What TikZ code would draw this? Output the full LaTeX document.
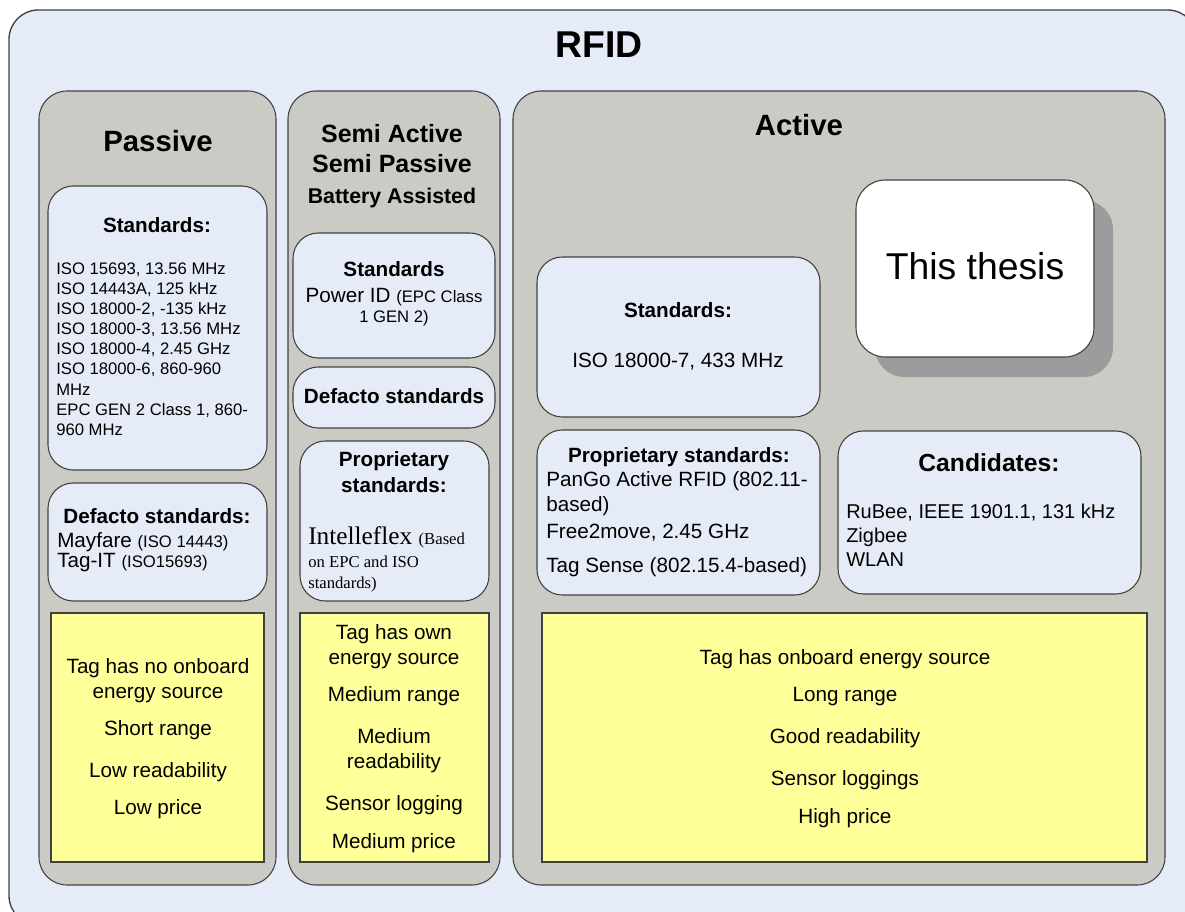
\documentclass[tikz,border=0pt]{standalone}
\usepackage{fontspec}
\setmainfont{Liberation Sans}
\newfontfamily\timesfont{Liberation Serif}
\newcommand\fsz[1]{\fontsize{#1pt}{#1pt}\selectfont}

\definecolor{rfidblue}{HTML}{E6ECF7}
\definecolor{rfidgray}{HTML}{CBCBC6}
\definecolor{rfidyellow}{HTML}{FFFF99}
\definecolor{rfidshadow}{HTML}{9C9C9C}
\definecolor{rfidline}{HTML}{404040}

\tikzset{
  box/.style={draw=rfidline, line width=0.8pt, fill=rfidblue, rounded corners=19pt},
  panel/.style={box, fill=rfidgray, rounded corners=21pt},
  note/.style={draw=rfidline, line width=0.8pt, fill=rfidyellow},
  lbl/.style={inner sep=0pt, anchor=base},
  lbll/.style={inner sep=0pt, anchor=base west},
  head/.style={lbl, font=\bfseries\fsz{15.5}},
  body/.style={lbl, font=\fsz{15.5}},
  small/.style={lbll, font=\fsz{12.5}}
}

\begin{document}
\begin{tikzpicture}[x=0.75pt, y=-0.75pt]
  \useasboundingbox (0,0) rectangle (1185,912);
  \clip (0,0) rectangle (1185,912);
  \draw[box, line width=1pt, rounded corners=22pt] (9,10) rectangle (1197,925);
  \node[lbl, font=\bfseries\fsz{28}] (rfid) at (599,58) {RFID};

  % the three columns
  \draw[panel] (39,91) rectangle (276,885);
  \draw[panel] (288,91) rectangle (500,885);
  \draw[panel] (513,91) rectangle (1165,885);

  % passive
  \node[lbl, font=\bfseries\fsz{22}] (passive) at (158,152) {Passive};
  \draw[box] (48,186) rectangle (267,470);
  \node[head] (p-std) at (157,233) {Standards:};
  \foreach \t/\y [count=\i] in {{ISO 15693, 13.56 MHz}/275, {ISO 14443A, 125 kHz}/295,
      {ISO 18000-2, -135 kHz}/315, {ISO 18000-3, 13.56 MHz}/335, {ISO 18000-4, 2.45 GHz}/355,
      {ISO 18000-6, 860-960}/375, MHz/396, {EPC GEN 2 Class 1, 860-}/416, 960 MHz/436}
    \node[small] (p-std-\i) at (56,\y) {\t};
  \draw[box] (48,483) rectangle (267,601);
  \node[head] (p-def) at (157,523) {Defacto standards:};
  \node[lbll, font=\fsz{15.5}] (p-def-1) at (57,547) {Mayfare {\fsz{12.5}(ISO 14443)}};
  \node[lbll, font=\fsz{15.5}] (p-def-2) at (57,567) {Tag-IT {\fsz{12.5}(ISO15693)}};
  \draw[note] (51,613) rectangle (264,862);
  \foreach \t/\y [count=\i] in {Tag has no onboard/673, energy source/698,
      Short range/735, Low readability/777, Low price/814}
    \node[body] (p-note-\i) at (158,\y) {\t};

  % semi active / semi passive
  \node[lbl, font=\bfseries\fsz{18.75}] (semi-1) at (392,143) {Semi Active};
  \node[lbl, font=\bfseries\fsz{18.75}] (semi-2) at (392,173) {Semi Passive};
  \node[lbl, font=\bfseries\fsz{16}] (semi-3) at (392,204) {Battery Assisted};
  \draw[box] (293,233) rectangle (495,358);
  \node[head] (s-std) at (394,277) {Standards};
  \node[body] (s-std-1) at (394,303) {Power ID {\fsz{12.5}(EPC Class}};
  \node[lbl, font=\fsz{12.5}] (s-std-2) at (394,323) {1 GEN 2)};
  \draw[box] (293,367) rectangle (495,428);
  \node[head] (s-def) at (394,404) {Defacto standards};
  \draw[box] (300,441) rectangle (489,601);
  \node[head] (s-prop-1) at (394,467) {Proprietary};
  \node[head] (s-prop-2) at (394,493) {standards:};
  \node[lbll, font=\timesfont\fsz{19}] (s-prop-3) at (308,545) {Intelleflex {\fsz{12.5}(Based}};
  \node[lbll, font=\timesfont\fsz{12.5}] (s-prop-4) at (308,567) {on EPC and ISO};
  \node[lbll, font=\timesfont\fsz{12.5}] (s-prop-5) at (308,588) {standards)};
  \draw[note] (300,613) rectangle (489,862);
  \foreach \t/\y [count=\i] in {Tag has own/639, energy source/664, Medium range/701,
      Medium/743, readability/768, Sensor logging/810, Medium price/848}
    \node[body] (s-note-\i) at (394,\y) {\t};

  % active
  \node[lbl, font=\bfseries\fsz{22}] (active) at (799,136) {Active};
  \draw[box] (537,257) rectangle (820,417);
  \node[head] (a-std) at (678,318) {Standards:};
  \node[body] (a-std-1) at (678,368) {ISO 18000-7, 433 MHz};
  \draw[box] (537,430) rectangle (820,595);
  \node[head] (a-prop) at (679,463) {Proprietary standards:};
  \foreach \t/\y [count=\i] in {{PanGo Active RFID (802.11-}/487, based)/512,
      {Free2move, 2.45 GHz}/538, Tag Sense (802.15.4-based)/572}
    \node[lbll, font=\fsz{15.5}] (a-prop-\i) at (546,\y) {\t};
  \fill[rfidshadow, rounded corners=22pt] (875,200) rectangle (1113,377);
  \draw[box, fill=white, rounded corners=22pt] (856,180) rectangle (1094,357);
  \node[lbl, font=\fsz{28}] (thesis) at (975,280) {This thesis};
  \draw[box] (838,431) rectangle (1141,594);
  \node[lbl, font=\bfseries\fsz{18.5}] (a-cand) at (989,472) {Candidates:};
  \foreach \t/\y [count=\i] in {{RuBee, IEEE 1901.1, 131 kHz}/518, Zigbee/542, WLAN/566}
    \node[lbll, font=\fsz{15}] (a-cand-\i) at (846,\y) {\t};
  \draw[note] (542,613) rectangle (1147,862);
  \foreach \t/\y [count=\i] in {Tag has onboard energy source/664, Long range/701,
      Good readability/743, Sensor loggings/785, High price/823}
    \node[body] (a-note-\i) at (845,\y) {\t};
\end{tikzpicture}
\end{document}
